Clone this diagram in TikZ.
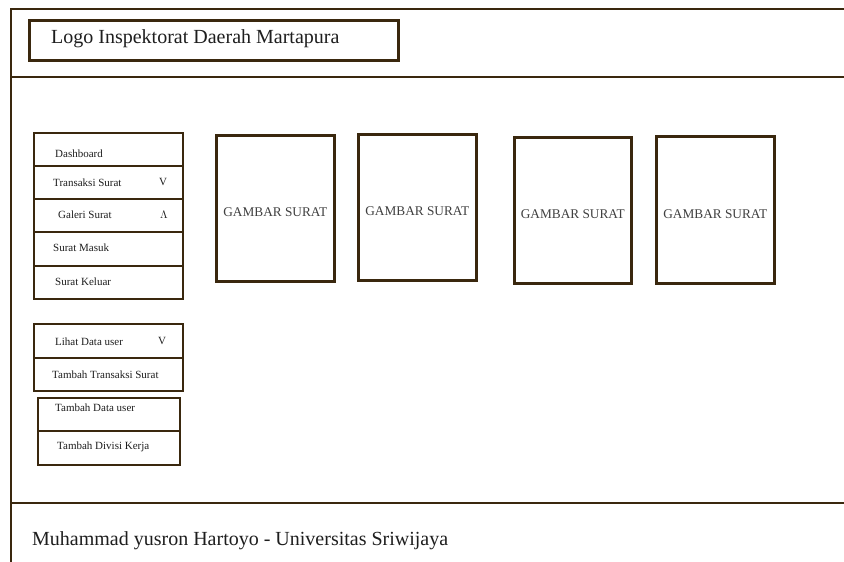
\documentclass[tikz,border=0pt]{standalone}
\usepackage{fontspec}
\setmainfont{Liberation Serif}
\definecolor{frame}{RGB}{58,40,14}
\definecolor{txt}{RGB}{30,30,30}
\begin{document}
\begin{tikzpicture}[x=1pt,y=-1pt,
  bigbox/.style={draw=frame,line width=2.6pt,anchor=north west,inner sep=0pt},
  cell/.style={draw=frame,line width=1.6pt,anchor=north west,inner sep=0pt,minimum width=149pt},
  mtext/.style={anchor=west,inner sep=0pt,font=\fontsize{11}{13}\selectfont,text=txt},
  big/.style={inner sep=0pt,font=\fontsize{20}{24}\selectfont,text=txt},
  gtext/.style={font=\fontsize{13.3}{16}\selectfont,text=black!75,inner sep=0pt}
]
\useasboundingbox (0,0) rectangle (844,562);
\fill[white] (0,0) rectangle (844,562);
% frame
\coordinate (tl) at (11,9);
\coordinate (tr) at (844,9);
\coordinate (bl) at (11,562);
\coordinate (hl) at (11,77);
\coordinate (hr) at (844,77);
\coordinate (fl) at (11,503);
\coordinate (fr) at (844,503);
\draw[frame,line width=2.6pt] (tr) -- (tl) -- (bl);
\draw[frame,line width=2.6pt] (hl) -- (hr);
\draw[frame,line width=2.6pt] (fl) -- (fr);
% logo
\node[bigbox,minimum width=369pt,minimum height=40pt] (logo) at (28,19) {};
\node[big,anchor=west] (logotext) at (51,39) {Logo Inspektorat Daerah Martapura};
% footer
\node[big,anchor=west] (footer) at (32,541) {Muhammad yusron Hartoyo - Universitas Sriwijaya};
% menu group 1
\node[cell,minimum height=33pt] (r1) at (33,132) {};
\node[cell,minimum height=33pt] (r2) at (33,165) {};
\node[cell,minimum height=33pt] (r3) at (33,198) {};
\node[cell,minimum height=34pt] (r4) at (33,231) {};
\node[cell,minimum height=33pt] (r5) at (33,265) {};
\node[mtext] (t1) at (55,154) {Dashboard};
\node[mtext] (t2) at (53,183) {Transaksi Surat};
\node[mtext] (v2) at (159,182) {V};
\node[mtext] (t3) at (58,215) {Galeri Surat};
\node[mtext] (v3) at (160,215) {$\Lambda$};
\node[mtext] (t4) at (53,248) {Surat Masuk};
\node[mtext] (t5) at (55,282) {Surat Keluar};
% menu group 2
\node[cell,minimum height=34pt] (s1) at (33,323) {};
\node[cell,minimum height=33pt] (s2) at (33,357) {};
\node[mtext] (u1) at (55,342) {Lihat Data user};
\node[mtext] (w1) at (158,341) {V};
\node[mtext] (u2) at (52,375) {Tambah Transaksi Surat};
% menu group 3
\node[cell,minimum width=142pt,minimum height=33pt] (q1) at (37,397) {};
\node[cell,minimum width=142pt,minimum height=34pt] (q2) at (37,430) {};
\node[mtext] (p1) at (55,408) {Tambah Data user};
\node[mtext] (p2) at (57,447) {Tambah Divisi Kerja};
% pictures
\node[bigbox,minimum width=118pt,minimum height=146pt] (g1) at (215,134) {};
\node[bigbox,minimum width=118pt,minimum height=146pt] (g2) at (357,133) {};
\node[bigbox,minimum width=117pt,minimum height=146pt] (g3) at (513,136) {};
\node[bigbox,minimum width=118pt,minimum height=147pt] (g4) at (655,135) {};
\node[gtext] (gt1) at ([yshift=-4pt]g1.center) {GAMBAR SURAT};
\node[gtext] (gt2) at ([yshift=-4pt]g2.center) {GAMBAR SURAT};
\node[gtext] (gt3) at ([yshift=-4pt]g3.center) {GAMBAR SURAT};
\node[gtext] (gt4) at ([yshift=-4pt]g4.center) {GAMBAR SURAT};
\end{tikzpicture}
\end{document}
